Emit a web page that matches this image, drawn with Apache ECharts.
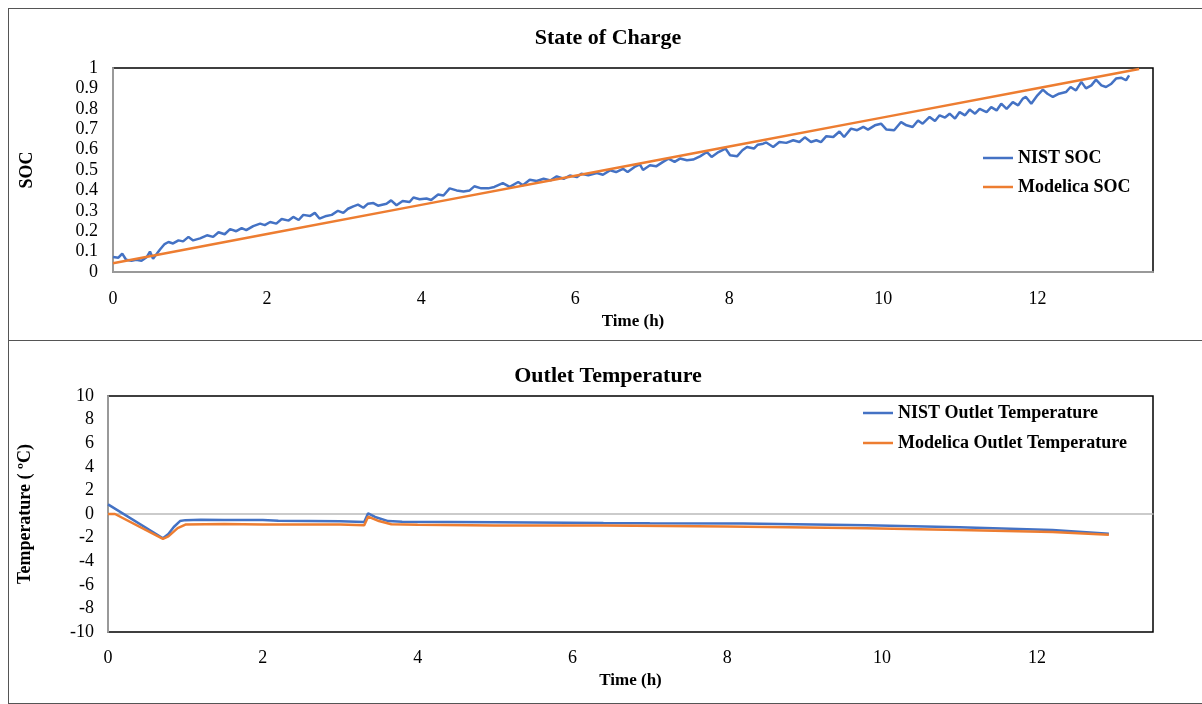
<!DOCTYPE html>
<html>
<head>
<meta charset="utf-8">
<script src="https://cdn.jsdelivr.net/npm/echarts@6/dist/echarts.min.js"></script>
<style>
	html, body {margin: 0; padding: 0; background: #fff; overflow: hidden;}
	.panel {position: absolute; left: 8px; width: 1198px; border: 1px solid #555;}
	#soc-chart {top: 8px; height: 331px;}
	#temp-chart {top: 340px; height: 362px;}
</style>
</head>
<body>
<div class="panel" id="soc-chart"></div>
<div class="panel" id="temp-chart"></div>
<script>
const serif = '"Liberation Serif", "Times New Roman", serif';
const blue = '#4472C4';
const orange = '#ED7D31';

// State of charge, time in hours
const nistSocTime = [
	0.00, 0.07, 0.12, 0.17, 0.24, 0.30, 0.37, 0.44, 0.48, 0.52, 0.61, 0.67, 0.72, 0.78, 0.85, 0.91, 0.98,
	1.04, 1.13, 1.22, 1.30, 1.37, 1.45, 1.52, 1.60, 1.67, 1.73, 1.82, 1.91, 1.97, 2.04, 2.12, 2.19, 2.28,
	2.34, 2.41, 2.47, 2.56, 2.62, 2.68, 2.77, 2.84, 2.92, 2.99, 3.05, 3.12, 3.18, 3.25, 3.31, 3.38, 3.44,
	3.55, 3.61, 3.68, 3.76, 3.85, 3.90, 3.98, 4.07, 4.13, 4.22, 4.29, 4.37, 4.46, 4.55, 4.63, 4.69, 4.78,
	4.87, 4.95, 5.06, 5.15, 5.26, 5.32, 5.41, 5.50, 5.59, 5.68, 5.76, 5.85, 5.93, 6.02, 6.08, 6.17, 6.28,
	6.36, 6.45, 6.53, 6.62, 6.68, 6.77, 6.84, 6.88, 6.97, 7.05, 7.14, 7.21, 7.29, 7.36, 7.45, 7.53, 7.62,
	7.71, 7.77, 7.86, 7.95, 8.01, 8.10, 8.17, 8.23, 8.32, 8.37, 8.44, 8.48, 8.57, 8.65, 8.74, 8.83, 8.91,
	8.98, 9.06, 9.13, 9.19, 9.26, 9.35, 9.43, 9.49, 9.58, 9.66, 9.74, 9.80, 9.89, 9.97, 10.04, 10.14,
	10.23, 10.30, 10.38, 10.45, 10.51, 10.60, 10.67, 10.73, 10.80, 10.86, 10.93, 10.99, 11.06, 11.12,
	11.19, 11.25, 11.34, 11.40, 11.47, 11.53, 11.60, 11.68, 11.75, 11.81, 11.85, 11.92, 12.00, 12.07,
	12.13, 12.20, 12.28, 12.37, 12.43, 12.50, 12.57, 12.63, 12.70, 12.76, 12.83, 12.89, 12.96, 13.02,
	13.09, 13.15, 13.19,
];
const nistSoc = [
	0.074, 0.070, 0.090, 0.060, 0.055, 0.060, 0.055, 0.074, 0.100, 0.065, 0.110, 0.137, 0.147, 0.140, 0.155, 0.150, 0.172,
	0.155, 0.165, 0.180, 0.172, 0.195, 0.185, 0.210, 0.200, 0.215, 0.205, 0.225, 0.237, 0.230, 0.245, 0.237, 0.260, 0.252,
	0.270, 0.255, 0.280, 0.275, 0.290, 0.262, 0.275, 0.280, 0.300, 0.290, 0.310, 0.322, 0.330, 0.315, 0.335, 0.338, 0.325,
	0.335, 0.351, 0.327, 0.348, 0.343, 0.365, 0.357, 0.360, 0.353, 0.380, 0.375, 0.410, 0.400, 0.395, 0.400, 0.420, 0.410,
	0.410, 0.417, 0.436, 0.417, 0.441, 0.425, 0.452, 0.446, 0.457, 0.449, 0.469, 0.457, 0.473, 0.465, 0.482, 0.474, 0.485,
	0.477, 0.498, 0.490, 0.506, 0.490, 0.515, 0.528, 0.500, 0.523, 0.518, 0.540, 0.556, 0.540, 0.556, 0.548, 0.551, 0.567,
	0.588, 0.564, 0.588, 0.605, 0.572, 0.567, 0.597, 0.613, 0.605, 0.624, 0.629, 0.635, 0.613, 0.637, 0.633, 0.646, 0.637,
	0.660, 0.637, 0.646, 0.637, 0.666, 0.662, 0.689, 0.662, 0.703, 0.695, 0.711, 0.698, 0.719, 0.727, 0.698, 0.695,
	0.735, 0.719, 0.711, 0.743, 0.727, 0.760, 0.740, 0.768, 0.757, 0.776, 0.752, 0.784, 0.768, 0.796,
	0.776, 0.800, 0.784, 0.808, 0.792, 0.825, 0.800, 0.833, 0.817, 0.850, 0.858, 0.825, 0.866, 0.894,
	0.874, 0.858, 0.874, 0.882, 0.907, 0.890, 0.932, 0.900, 0.915, 0.943, 0.915, 0.907, 0.923, 0.948,
	0.952, 0.940, 0.964,
];
const modelicaSocTime = [0, 2, 4, 6, 8, 10, 12, 13.32];
const modelicaSoc = [0.043, 0.186, 0.329, 0.472, 0.615, 0.758, 0.901, 0.995];

// Outlet temperature, time in hours
const nistTempTime = [0, 0.71, 0.78, 0.85, 0.93, 1.0, 1.2, 1.5, 2.0, 2.2, 3.0, 3.31, 3.36, 3.45, 3.62, 3.8, 5.0, 6.4, 7.0, 8.2, 9.8, 11.0, 12.2, 12.93];
const nistTemp = [0.82, -2.06, -1.7, -1.1, -0.6, -0.52, -0.48, -0.5, -0.5, -0.58, -0.62, -0.68, 0.06, -0.25, -0.6, -0.65, -0.7, -0.76, -0.78, -0.8, -0.96, -1.13, -1.36, -1.67];
const modelicaTempTime = [0, 0.09, 0.71, 0.78, 0.9, 1.0, 1.5, 2.0, 3.0, 3.31, 3.36, 3.5, 3.66, 4.0, 5.0, 6.4, 8.0, 9.8, 11.0, 12.2, 12.93];
const modelicaTemp = [0, 0, -2.1, -1.9, -1.2, -0.9, -0.85, -0.88, -0.9, -0.96, -0.23, -0.6, -0.87, -0.92, -0.97, -0.98, -1.05, -1.21, -1.36, -1.53, -1.75];

function pairs(xs, ys) {
	return xs.map((x, i) => [x, ys[i]]);
}

function lineSeries(name, xs, ys, color) {
	return {
		name,
		type: 'line',
		data: pairs(xs, ys),
		symbol: 'none',
		lineStyle: {width: 2.5, color},
		itemStyle: {color},
	};
}

function baseOptions(o) {
	return {
		animation: false,
		textStyle: {fontFamily: serif},
		title: {
			text: o.title,
			left: 'center',
			top: o.titleTop,
			textStyle: {fontFamily: serif, fontSize: 22, fontWeight: 'bold', color: '#000'},
		},
		legend: {
			orient: 'vertical',
			left: o.legendLeft,
			top: o.legendTop,
			padding: 0,
			icon: 'rect',
			itemWidth: 30,
			itemHeight: 2.5,
			itemGap: o.legendGap,
			textStyle: {fontFamily: serif, fontSize: 18, fontWeight: 'bold', color: '#000', lineHeight: 20},
		},
		grid: {
			show: true,
			left: o.grid.left,
			top: o.grid.top,
			right: o.grid.right,
			bottom: o.grid.bottom,
			outerBoundsMode: 'none',
			borderColor: '#000',
			borderWidth: 1.5,
		},
		xAxis: [{
			type: 'value',
			min: 0,
			max: 13.5,
			interval: 2,
			name: 'Time (h)',
			nameLocation: 'middle',
			nameGap: 40,
			nameTextStyle: {fontFamily: serif, fontSize: 17, fontWeight: 'bold', color: '#000'},
			axisLine: {show: o.xLine, onZero: false, lineStyle: {color: '#999', width: 2}},
			axisTick: {show: false},
			splitLine: {show: false},
			axisLabel: {margin: o.xLabelMargin, fontSize: 18, color: '#000', showMaxLabel: false},
		}],
		yAxis: {
			type: 'value',
			min: o.yMin,
			max: o.yMax,
			interval: o.yInterval,
			name: o.yName,
			nameLocation: 'middle',
			nameGap: o.yNameGap,
			nameTextStyle: {fontFamily: serif, fontSize: 18, fontWeight: 'bold', color: '#000'},
			axisLine: {show: true, lineStyle: {color: '#999', width: 2}},
			axisTick: {show: false},
			splitLine: {show: false},
			axisLabel: {margin: o.yLabelMargin, fontSize: 18, color: '#000'},
		},
		series: o.series,
	};
}

const socChart = echarts.init(document.getElementById('soc-chart'));
socChart.setOption(baseOptions({
	title: 'State of Charge',
	titleTop: 13,
	legendLeft: 974,
	legendTop: 139,
	legendGap: 9,
	grid: {left: 104, top: 59, right: 54, bottom: 68},
	xLine: true,
	xLabelMargin: 18,
	yMin: 0,
	yMax: 1,
	yInterval: 0.1,
	yName: 'SOC',
	yNameGap: 77,
	yLabelMargin: 15,
	series: [
		lineSeries('NIST SOC', nistSocTime, nistSoc, blue),
		lineSeries('Modelica SOC', modelicaSocTime, modelicaSoc, orange),
	],
}));

const tempOptions = baseOptions({
	title: 'Outlet Temperature',
	titleTop: 19,
	legendLeft: 854,
	legendTop: 62,
	legendGap: 10,
	grid: {left: 99, top: 55, right: 54, bottom: 71},
	xLine: false,
	xLabelMargin: 17,
	yMin: -10,
	yMax: 10,
	yInterval: 2,
	yName: 'Temperature ( \u00baC)',
	yNameGap: 74,
	yLabelMargin: 14,
	series: [
		lineSeries('NIST Outlet Temperature', nistTempTime, nistTemp, blue),
		lineSeries('Modelica Outlet Temperature', modelicaTempTime, modelicaTemp, orange),
	],
});
// gray line at 0 °C
tempOptions.xAxis.push({
	type: 'value',
	min: 0,
	max: 13.5,
	axisLine: {show: true, onZero: true, onZeroAxisIndex: 0, lineStyle: {color: '#bbb', width: 1.5}},
	axisTick: {show: false},
	axisLabel: {show: false},
	splitLine: {show: false},
});
const tempChart = echarts.init(document.getElementById('temp-chart'));
tempChart.setOption(tempOptions);
</script>
</body>
</html>
